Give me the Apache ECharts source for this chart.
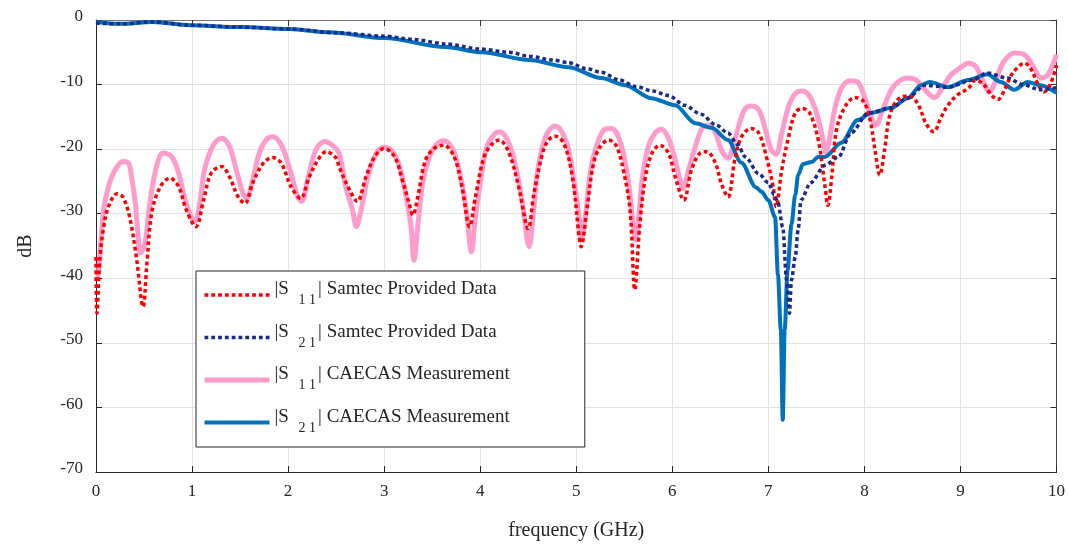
<!DOCTYPE html>
<html>
<head>
<meta charset="utf-8">
<script src="https://cdn.jsdelivr.net/npm/echarts@6/dist/echarts.min.js"></script>
<style>html,body{margin:0;padding:0;background:#fff}#c{width:1068px;height:546px}</style>
</head>
<body>
<div id="c"></div>
<script>
// [frequency GHz, dB]
const s11Samtec = [[0,-36.7],[0.01,-45.4],[0.04,-37],[0.08,-32.0],[0.13,-28.9],[0.22,-26.9],[0.28,-27.4],[0.35,-30.5],[0.42,-36.7],[0.49,-44.4],[0.53,-37.7],[0.58,-29.9],[0.67,-25.8],[0.77,-24.5],[0.86,-25.8],[0.94,-29.4],[1.04,-32.0],[1.12,-27.9],[1.20,-23.7],[1.31,-22.7],[1.39,-24.3],[1.48,-27.4],[1.55,-28.4],[1.63,-25.3],[1.74,-22.2],[1.84,-21.3],[1.93,-22.2],[2.03,-25.8],[2.13,-27.6],[2.22,-24.3],[2.33,-21.2],[2.40,-20.4],[2.50,-21.4],[2.53,-22.7],[2.64,-26.3],[2.72,-28.1],[2.81,-24.3],[2.90,-21.2],[3.00,-19.9],[3.11,-21.2],[3.19,-24.8],[3.26,-28.4],[3.30,-30.2],[3.35,-27.4],[3.43,-21.7],[3.52,-19.9],[3.62,-19.4],[3.73,-21.2],[3.81,-25.8],[3.89,-32.0],[3.95,-27.4],[4.04,-21.2],[4.13,-19.1],[4.20,-18.6],[4.30,-20.6],[4.40,-25.8],[4.50,-32.3],[4.56,-26.8],[4.65,-20.6],[4.71,-18.6],[4.78,-18.0],[4.87,-19.1],[4.96,-24.3],[5.03,-33.6],[5.05,-35.1],[5.11,-29.4],[5.18,-22.2],[5.25,-19.6],[5.34,-18.6],[5.42,-19.6],[5.49,-23.2],[5.56,-29.4],[5.61,-41.8],[5.66,-32.0],[5.72,-24.3],[5.79,-20.6],[5.87,-19.4],[5.96,-20.6],[6.03,-24.3],[6.12,-27.9],[6.20,-23.2],[6.29,-20.6],[6.36,-20.4],[6.45,-22.2],[6.51,-25.3],[6.58,-27.4],[6.65,-21.7],[6.72,-18.1],[6.82,-16.8],[6.90,-17.5],[6.98,-21.2],[7.05,-25.8],[7.08,-28.9],[7.14,-23.2],[7.21,-18.1],[7.28,-14.4],[7.35,-13.7],[7.43,-14.4],[7.52,-18.6],[7.59,-25.8],[7.62,-28.7],[7.66,-24.3],[7.71,-17.0],[7.80,-13.4],[7.90,-12.0],[7.99,-12.6],[8.06,-15.5],[8.11,-20.1],[8.16,-24.0],[8.21,-20.1],[8.26,-15.0],[8.33,-12.6],[8.42,-11.8],[8.49,-11.9],[8.57,-13.4],[8.64,-16.0],[8.72,-17.3],[8.80,-15.0],[8.87,-13.2],[8.97,-11.6],[9.08,-10.6],[9.16,-9.3],[9.25,-10.1],[9.32,-11.6],[9.39,-12.3],[9.46,-10.8],[9.54,-8.3],[9.67,-6.7],[9.73,-7.5],[9.82,-10.3],[9.87,-11.1],[9.94,-9.8],[10.0,-7.0]];
const s21Samtec = [[0,-0.5],[0.25,-0.6],[0.59,-0.3],[0.98,-0.8],[1.5,-1.1],[2.01,-1.4],[2.53,-2.0],[3.0,-2.5],[3.3,-3.0],[3.64,-3.7],[4.0,-4.5],[4.3,-5.0],[4.51,-5.6],[4.75,-6.2],[4.92,-6.6],[5.1,-7.5],[5.26,-8.1],[5.45,-9.3],[5.62,-10.3],[5.8,-11.0],[5.96,-11.7],[6.13,-13.2],[6.30,-14.6],[6.45,-16.2],[6.58,-17.5],[6.68,-19.3],[6.76,-21.2],[6.90,-23.8],[7.00,-25.2],[7.06,-27],[7.10,-28.3],[7.15,-32.1],[7.19,-40.3],[7.22,-45.4],[7.24,-40.3],[7.28,-36.7],[7.31,-32.5],[7.34,-27.9],[7.44,-25.2],[7.59,-22.5],[7.73,-21.2],[7.86,-17.5],[8.04,-14.4],[8.28,-13.6],[8.45,-12.1],[8.63,-10.1],[8.87,-10.4],[9.13,-9.3],[9.28,-8.2],[9.49,-9.0],[9.65,-10],[9.83,-10.8],[10.0,-10.5]];
const s11Caecas = [[0,-39.8],[0.01,-39.8],[0.08,-29.4],[0.13,-25.8],[0.20,-23.2],[0.28,-21.9],[0.34,-22.2],[0.37,-24.3],[0.41,-28.4],[0.44,-33.6],[0.46,-36.1],[0.51,-34.6],[0.56,-28.4],[0.63,-22.7],[0.70,-20.6],[0.79,-21.2],[0.86,-23.7],[0.92,-27.4],[0.99,-30.5],[1.03,-31.2],[1.08,-28.4],[1.13,-23.2],[1.22,-19.4],[1.31,-18.3],[1.39,-19.6],[1.46,-23.2],[1.53,-26.8],[1.57,-27.6],[1.63,-24.8],[1.70,-20.6],[1.77,-18.6],[1.84,-18.1],[1.93,-19.4],[2.02,-23.2],[2.10,-27.4],[2.14,-28.1],[2.21,-24.3],[2.29,-20.1],[2.38,-18.8],[2.46,-19.4],[2.53,-20.6],[2.60,-25.8],[2.67,-29.4],[2.71,-32.0],[2.76,-29.4],[2.83,-24.3],[2.92,-20.6],[3.00,-19.7],[3.09,-20.4],[3.16,-22.7],[3.23,-27.4],[3.28,-32.0],[3.31,-37.2],[3.35,-32.0],[3.40,-25.3],[3.47,-21.2],[3.54,-19.4],[3.62,-18.7],[3.71,-19.9],[3.78,-23.2],[3.85,-28.9],[3.91,-35.9],[3.95,-30.5],[4.01,-24.3],[4.07,-19.6],[4.16,-17.5],[4.21,-17.3],[4.30,-19.1],[4.37,-22.7],[4.44,-28.4],[4.51,-35.1],[4.55,-30.5],[4.60,-23.2],[4.68,-18.1],[4.78,-16.4],[4.85,-17.3],[4.92,-20.1],[4.99,-26.3],[5.03,-30.5],[5.05,-34.1],[5.10,-29.9],[5.15,-23.2],[5.22,-19.1],[5.29,-17.0],[5.36,-16.8],[5.42,-17.5],[5.49,-20.6],[5.55,-25.8],[5.59,-31.5],[5.62,-34.1],[5.65,-30.5],[5.69,-24.3],[5.75,-19.6],[5.82,-17.5],[5.89,-16.9],[5.96,-18.3],[6.03,-21.7],[6.08,-24.8],[6.11,-26.1],[6.17,-23.2],[6.24,-19.6],[6.31,-16.8],[6.38,-16.3],[6.45,-17.5],[6.51,-20.1],[6.58,-21.4],[6.64,-19.1],[6.71,-15.5],[6.76,-13.7],[6.82,-13.3],[6.90,-13.9],[6.97,-17.0],[7.03,-20.1],[7.08,-20.8],[7.14,-17.5],[7.21,-13.4],[7.28,-11.4],[7.35,-11.0],[7.41,-11.4],[7.48,-13.4],[7.54,-16.5],[7.59,-20.1],[7.60,-20.6],[7.64,-18.1],[7.69,-13.9],[7.76,-10.6],[7.85,-9.4],[7.93,-9.6],[8.00,-11.9],[8.07,-15.0],[8.12,-16.3],[8.19,-13.9],[8.28,-10.8],[8.35,-9.6],[8.44,-9.0],[8.54,-9.3],[8.63,-10.8],[8.73,-12.0],[8.82,-10.3],[8.90,-8.5],[8.99,-7.5],[9.08,-6.7],[9.16,-7.2],[9.23,-9.3],[9.30,-11.1],[9.37,-9.3],[9.44,-6.7],[9.56,-5.1],[9.67,-5.4],[9.77,-7.5],[9.84,-9.0],[9.91,-8.5],[10.0,-5.4]];
const s21Caecas = [[0,-0.3],[0.25,-0.6],[0.59,-0.3],[0.98,-0.8],[1.5,-1.1],[2.01,-1.4],[2.43,-1.9],[3.0,-2.8],[3.64,-4.2],[4.02,-5.0],[4.51,-6.2],[4.92,-7.3],[5.26,-9.0],[5.51,-10.1],[5.78,-12.1],[6.03,-13.2],[6.24,-16.0],[6.41,-16.7],[6.58,-18.6],[6.72,-22.1],[6.87,-25.9],[6.93,-26.6],[7.00,-27.9],[7.07,-30.5],[7.10,-39.5],[7.13,-48],[7.15,-61.9],[7.17,-48],[7.20,-38.7],[7.24,-31.7],[7.28,-27.1],[7.31,-24],[7.36,-22.3],[7.45,-22],[7.52,-21.2],[7.59,-21.2],[7.76,-19.0],[7.93,-15.5],[8.07,-14.4],[8.28,-13.6],[8.45,-12.1],[8.59,-10.1],[8.68,-9.6],[8.87,-10.4],[9.08,-9.3],[9.28,-8.4],[9.42,-9.6],[9.56,-10.8],[9.70,-9.6],[9.83,-10.1],[10.0,-11.3]];

const seriesNames = ['S11 Samtec', 'S21 Samtec', 'S11 CAECAS', 'S21 CAECAS'];
const legendLabels = {
  'S11 Samtec': '{m||S }{sub|1 1}{m|| Samtec Provided Data}',
  'S21 Samtec': '{m||S }{sub|2 1}{m|| Samtec Provided Data}',
  'S11 CAECAS': '{m||S }{sub|1 1}{m|| CAECAS Measurement}',
  'S21 CAECAS': '{m||S }{sub|2 1}{m|| CAECAS Measurement}'
};
const xTicks = {min: 0, max: 10, interval: 1};
const yTicks = {min: -70, max: 0, interval: 10};

const FONT = 'Liberation Serif';
const COLORS = {s11s: '#ff0000', s21s: '#1c2a8c', s11c: '#ff9ccb', s21c: '#0072bd'};
const dotted = [3.8, 3];
const chart = echarts.init(document.getElementById('c'));
chart.setOption({
  animation: false,
  backgroundColor: '#fff',
  grid: {left: 96, right: 9, top: 20, bottom: 73},
  xAxis: [
    {type: 'value', position: 'bottom', min: xTicks.min, max: xTicks.max, interval: xTicks.interval,
      name: 'frequency (GHz)', nameLocation: 'middle', nameGap: 49,
      nameTextStyle: {fontFamily: FONT, fontSize: 20, color: '#262626'},
      axisLine: {show: true, onZero: false, lineStyle: {color: '#262626', width: 1}},
      axisTick: {show: true, inside: true, length: 6, lineStyle: {color: '#262626'}},
      axisLabel: {fontFamily: FONT, fontSize: 17, color: '#262626', margin: 11},
      splitLine: {show: true, lineStyle: {color: '#e3e3e3', width: 1}}},
    {type: 'value', position: 'top', min: xTicks.min, max: xTicks.max, interval: xTicks.interval,
      axisLine: {show: true, onZero: false, lineStyle: {color: '#777'}},
      axisTick: {show: true, inside: true, length: 6, lineStyle: {color: '#333'}},
      axisLabel: {show: false}, splitLine: {show: false}}
  ],
  yAxis: [
    {type: 'value', position: 'left', min: yTicks.min, max: yTicks.max, interval: yTicks.interval,
      name: 'dB', nameLocation: 'middle', nameGap: 60,
      nameTextStyle: {fontFamily: FONT, fontSize: 20, color: '#262626'},
      axisLine: {show: true, onZero: false, lineStyle: {color: '#262626', width: 1}},
      axisTick: {show: true, inside: true, length: 6, lineStyle: {color: '#262626'}},
      axisLabel: {fontFamily: FONT, fontSize: 17, color: '#262626', margin: 13, verticalAlign: 'bottom', lineHeight: 6},
      splitLine: {show: true, lineStyle: {color: '#e3e3e3', width: 1}}},
    {type: 'value', position: 'right', min: yTicks.min, max: yTicks.max, interval: yTicks.interval,
      axisLine: {show: true, onZero: false, lineStyle: {color: '#444'}},
      axisTick: {show: true, inside: true, length: 6, lineStyle: {color: '#333'}},
      axisLabel: {show: false}, splitLine: {show: false}}
  ],
  legend: {
    data: [
      {name: seriesNames[0], lineStyle: {color: COLORS.s11s, width: 3.5, type: dotted}},
      {name: seriesNames[1], lineStyle: {color: COLORS.s21s, width: 3.5, type: dotted}},
      {name: seriesNames[2], lineStyle: {color: COLORS.s11c, width: 5}},
      {name: seriesNames[3], lineStyle: {color: COLORS.s21c, width: 4}}
    ],
    orient: 'vertical', left: 196, top: 271,
    padding: [9, 75, 12, 6],
    itemWidth: 65, itemHeight: 14, itemGap: 15,
    itemStyle: {opacity: 0},
    backgroundColor: '#fff', borderColor: '#262626', borderWidth: 1, borderRadius: 0,
    formatter: n => legendLabels[n],
    textStyle: {fontFamily: FONT, fontSize: 19, color: '#262626',
      rich: {
        m: {fontFamily: FONT, fontSize: 19, color: '#262626', padding: [0, 0, 11, 0]},
        sub: {fontFamily: FONT, fontSize: 14, color: '#262626', padding: [11, 2, 0, 5]}
      }}
  },
  series: [
    {name: seriesNames[2], type: 'line', data: s11Caecas, showSymbol: false, symbol: 'none', smooth: 0.35, z: 2,
      lineStyle: {color: COLORS.s11c, width: 5}, itemStyle: {color: COLORS.s11c}},
    {name: seriesNames[3], type: 'line', data: s21Caecas, showSymbol: false, symbol: 'none', smooth: 0.3, smoothMonotone: 'x', z: 3,
      lineStyle: {color: COLORS.s21c, width: 4}, itemStyle: {color: COLORS.s21c}},
    {name: seriesNames[0], type: 'line', data: s11Samtec, showSymbol: false, symbol: 'none', smooth: 0.35, z: 4,
      lineStyle: {color: COLORS.s11s, width: 3.5, type: dotted, cap: 'butt'}, itemStyle: {color: COLORS.s11s}},
    {name: seriesNames[1], type: 'line', data: s21Samtec, showSymbol: false, symbol: 'none', smooth: 0.3, smoothMonotone: 'x', z: 5,
      lineStyle: {color: COLORS.s21s, width: 3.5, type: dotted, cap: 'butt'}, itemStyle: {color: COLORS.s21s}}
  ]
});
</script>
</body>
</html>
